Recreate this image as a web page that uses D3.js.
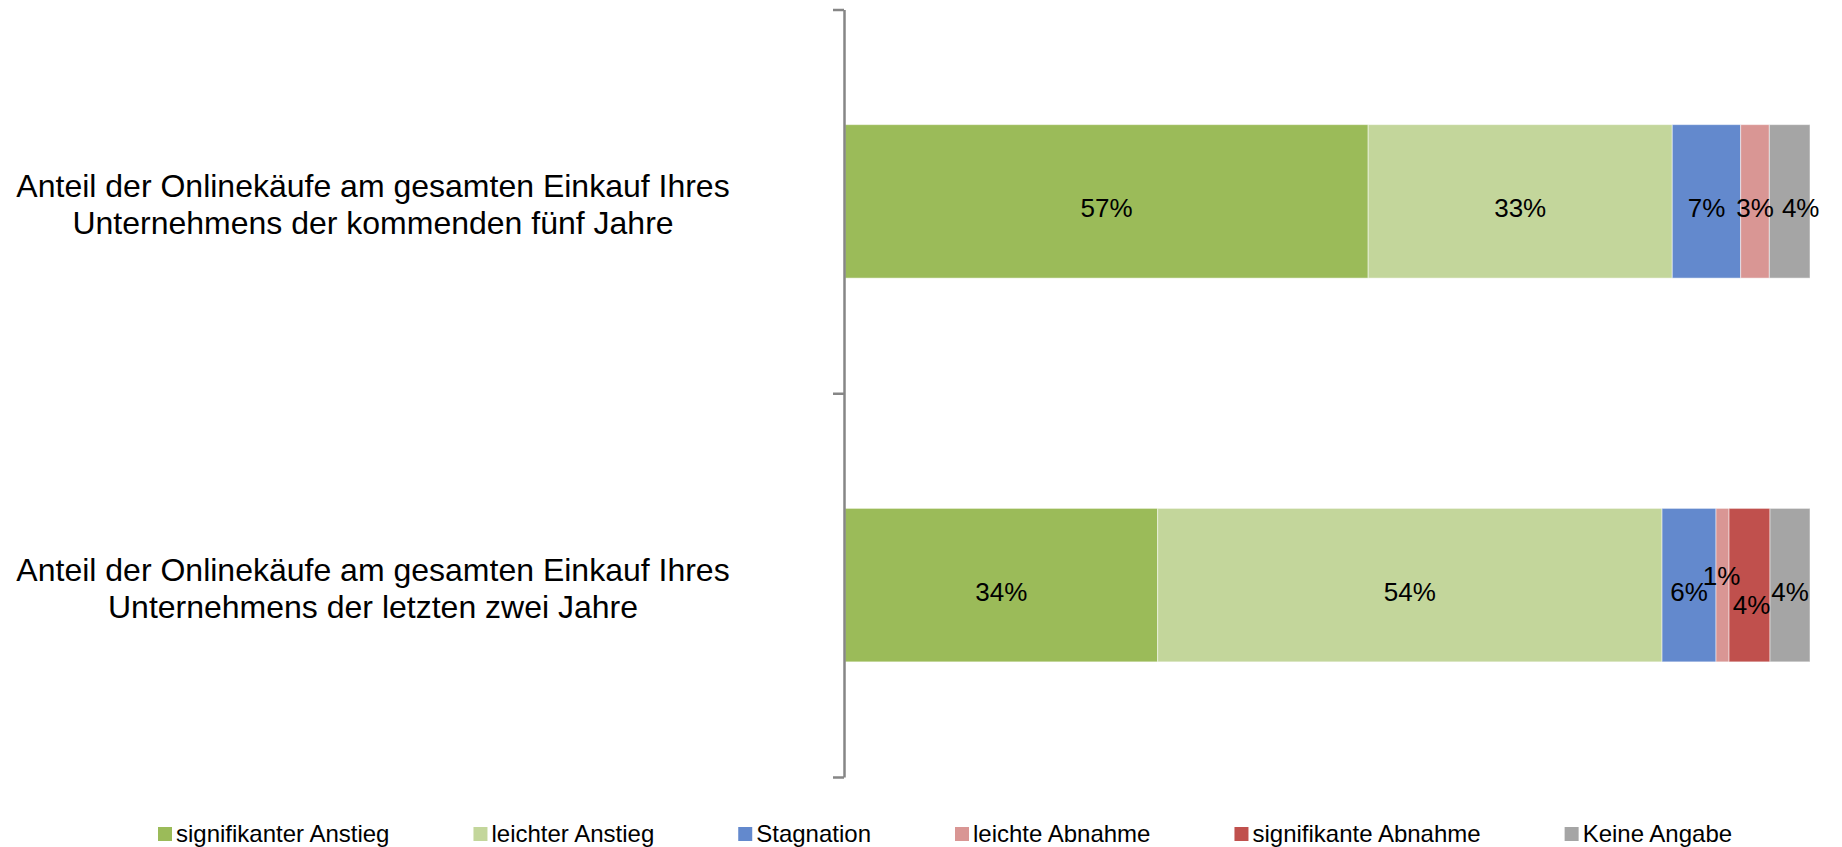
<!DOCTYPE html>
<html>
<head>
<meta charset="utf-8">
<script src="https://cdn.jsdelivr.net/npm/d3@7"></script>
<style>
  html, body { margin: 0; padding: 0; background: #fff; }
  svg { display: block; font-family: "Liberation Sans", Arial, sans-serif; }
</style>
</head>
<body>
<svg id="chart" width="1842" height="847"></svg>
<script>
// ---- data ----
const categories = ["kommende", "letzte"];
const categoryLines = [
  ["Anteil der Onlinekäufe am gesamten Einkauf Ihres", "Unternehmens der kommenden fünf Jahre"],
  ["Anteil der Onlinekäufe am gesamten Einkauf Ihres", "Unternehmens der letzten zwei Jahre"]
];
const seriesNames = ["signifikanter Anstieg", "leichter Anstieg", "Stagnation", "leichte Abnahme", "signifikante Abnahme", "Keine Angabe"];
const signifikanterAnstieg = [56.6, 33.6];
const leichterAnstieg      = [32.9, 54.2];
const stagnation           = [7.4, 5.8];
const leichteAbnahme       = [3.1, 1.4];
const signifikanteAbnahme  = [0, 4.4];
const keineAngabe          = [4.4, 4.3];
const seriesColors = ["#9BBB59", "#C3D69B", "#6389CD", "#D99694", "#C0504D", "#A5A5A5"];

const seriesValues = [signifikanterAnstieg, leichterAnstieg, stagnation, leichteAbnahme, signifikanteAbnahme, keineAngabe];
const table = categories.map((c, i) => {
  const row = { category: c, index: i };
  seriesNames.forEach((s, j) => row[s] = seriesValues[j][i]);
  return row;
});

// label collision nudges (Excel-style label placement)
const labelNudge = {
  "Keine Angabe|0": { dx: 11, dy: 0 },
  "leichte Abnahme|1": { dx: -1, dy: -16 },
  "signifikante Abnahme|1": { dx: 2, dy: 13 }
};

const svg = d3.select("#chart");

const y = d3.scaleBand().domain(categories).range([9.5, 777]).paddingInner(0.6).paddingOuter(0.3);
const x = d3.scaleLinear().domain([0, 1]).range([845, 1810]);

const stack = d3.stack().keys(seriesNames).offset(d3.stackOffsetExpand);
const stacked = stack(table);

// bars
const groups = svg.append("g").selectAll("g").data(stacked).join("g")
  .attr("fill", (d, i) => seriesColors[i]);
groups.selectAll("rect").data(d => d).join("rect")
  .attr("x", d => x(d[0]))
  .attr("y", d => y(d.data.category))
  .attr("width", d => Math.max(0, x(d[1]) - x(d[0])))
  .attr("height", y.bandwidth())
  .attr("stroke", "#ffffff")
  .attr("stroke-opacity", 0.5)
  .attr("stroke-width", 1);

// data labels
const labels = svg.append("g").attr("font-size", 26).attr("fill", "#000").attr("text-anchor", "middle");
stacked.forEach((s, si) => {
  s.forEach((d, ci) => {
    const v = d.data[s.key];
    if (!v) return;
    const n = labelNudge[s.key + "|" + ci] || { dx: 0, dy: 0 };
    labels.append("text")
      .attr("x", (x(d[0]) + x(d[1])) / 2 + n.dx)
      .attr("y", y(d.data.category) + y.bandwidth() / 2 + 16 + n.dy)
      .text(Math.round(v) + "%");
  });
});

// axis (category boundaries)
const yb = d3.scaleLinear().domain([0, categories.length]).range([9.5, 777]);
const axis = svg.append("g").attr("transform", "translate(844,0)")
  .call(d3.axisLeft(yb).tickValues(d3.range(categories.length + 1)).tickFormat("").tickSizeInner(11).tickSizeOuter(0));
axis.select(".domain").attr("stroke", "#868686").attr("stroke-width", 2.5);
axis.selectAll(".tick line").attr("stroke", "#868686").attr("stroke-width", 2.5);

// category labels
const catG = svg.append("g").attr("font-size", 32).attr("fill", "#000").attr("text-anchor", "middle");
categories.forEach((c, i) => {
  const cy = y(c) + y.bandwidth() / 2;
  const t = catG.append("text").attr("x", 373).attr("y", cy - 4);
  categoryLines[i].forEach((line, li) => {
    t.append("tspan").attr("x", 373).attr("dy", li === 0 ? 0 : 37).text(line);
  });
});

// legend
const legend = svg.append("g").attr("font-size", 24).attr("fill", "#000");
let lx = 158;
seriesNames.forEach((s, i) => {
  const g = legend.append("g").attr("transform", `translate(${lx},0)`);
  g.append("rect").attr("x", 0).attr("y", 827).attr("width", 14).attr("height", 14).attr("fill", seriesColors[i]);
  const t = g.append("text").attr("x", 18).attr("y", 842).text(s);
  lx += 18 + t.node().getComputedTextLength() + 84;
});
</script>
</body>
</html>
